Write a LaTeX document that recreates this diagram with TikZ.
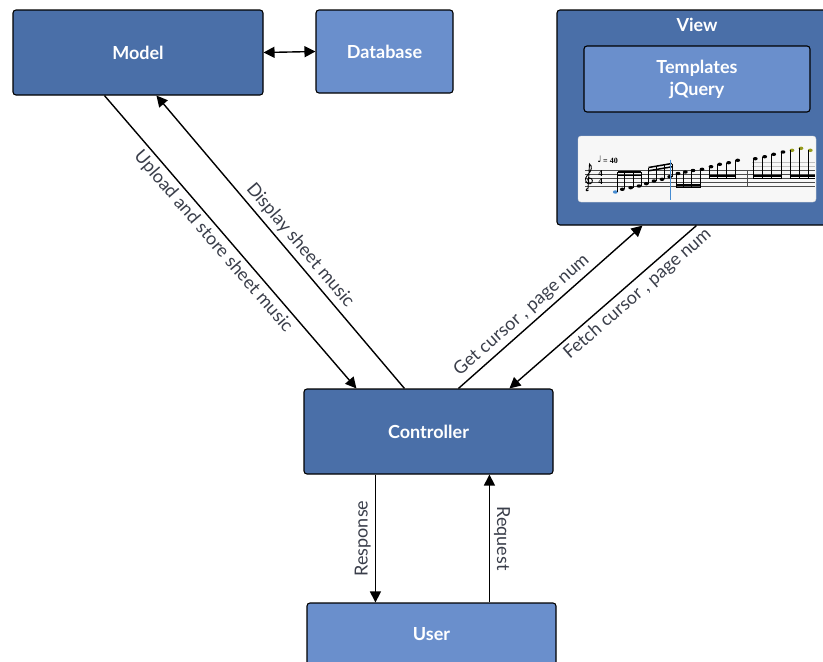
\documentclass[tikz,border=0pt]{standalone}
\usepackage{fontspec}
\setmainfont{Lato}
\newfontfamily\notefont{DejaVu Sans}
\newfontfamily\scorefont{Liberation Serif}
\usetikzlibrary{arrows.meta}

\definecolor{boxdark}{RGB}{74,111,168}
\definecolor{boxlight}{RGB}{106,143,204}
\definecolor{labelgrey}{RGB}{58,62,74}
\definecolor{cursorblue}{RGB}{70,140,210}
\definecolor{noteolive}{RGB}{150,155,30}

\tikzset{
  block/.style={draw=black, line width=1.1pt, rounded corners=3pt, fill=boxdark,
    text=white, inner sep=0pt, font=\bfseries\fontsize{18}{22}\selectfont, align=center},
  subblock/.style={block, fill=boxlight},
  flow/.style={-{Triangle[length=11pt,width=11pt]}, line width=1.4pt},
  flowboth/.style={{Triangle[length=11pt,width=11pt]}-{Triangle[length=11pt,width=11pt]}, line width=1.4pt},
  flowlabel/.style={text=labelgrey, inner sep=4pt, font=\fontsize{18}{22}\selectfont},
  staffline/.style={line width=0.5pt, black!70},
  stem/.style={line width=0.5pt},
  beam/.style={line width=1.5pt}
}

\begin{document}
\begin{tikzpicture}[x=1pt,y=-1pt]
  \useasboundingbox (0,0) rectangle (823,662);

  % boxes
  \node[block, minimum width=250, minimum height=85] (model) at (138,52.5) {Model};
  \node[subblock, minimum width=137, minimum height=83] (database) at (384.5,51.5) {Database};
  \node[block, minimum width=273, minimum height=215] (view) at (693.5,117.5) {};
  \node[text=white, font=\bfseries\fontsize{18}{22}\selectfont] (viewtitle) at (697,25) {View};
  \node[subblock, minimum width=226, minimum height=66] (templates) at (697,79) {Templates\\jQuery};
  \node[draw=black!15, fill=black!3, rounded corners=3pt, minimum width=238, minimum height=66] (sheet) at (697,169) {};
  \node[block, minimum width=249, minimum height=85] (controller) at (428.5,431.5) {Controller};
  \node[subblock, minimum width=249, minimum height=62] (user) at (431.5,634) {User};

  % score snippet
  \foreach \s in {170,174,178,182,186}
    \draw[staffline] (585,\s) -- (815,\s);
  \draw[line width=0.9pt] (588.5,190) .. controls (586,192.5) and (585,188.5) .. (588,188.5)
    -- (589.5,164) .. controls (592.5,166) and (592,170.5) .. (587.5,175)
    .. controls (583.5,179) and (586,184.5) .. (590,183.8)
    .. controls (593.5,183) and (593,178) .. (589.5,178)
    .. controls (587,178.5) and (587.5,181) .. (589,181.5);
  \node[font=\scorefont\bfseries\fontsize{9}{9}\selectfont, inner sep=0pt] (timetop) at (600.5,174) {4};
  \node[font=\scorefont\bfseries\fontsize{9}{9}\selectfont, inner sep=0pt] (timebot) at (600.5,182) {4};
  \node[font=\notefont\fontsize{9}{9}\selectfont, inner sep=0pt] (tempo) at (599.5,159.5) {♩};
  \node[font=\scorefont\bfseries\fontsize{8}{8}\selectfont, inner sep=0pt, anchor=west] (tempoval) at (603,160.5) {= 40};
  \draw[staffline] (747,170) -- (747,186);
  \draw[black!25, line width=0.4pt] (752,162) -- (815,162) (752,166) -- (815,166);

  % stems up, beams above
  \foreach \x/\y in {622.3/189.3, 630.7/187.7, 639/186}
    \fill (\x,\y) ellipse [x radius=2.4, y radius=1.7];
  \fill[cursorblue] (615.3,192) ellipse [x radius=2.4, y radius=1.7];
  \foreach \x/\y in {615.3/192, 622.3/189.3, 630.7/187.7, 639/186}
    \draw[stem] (\x+2.2,\y) -- (\x+2.2,172);
  \draw[beam] (617.5,172) -- (641.2,172) (617.5,175.3) -- (641.2,175.3);
  \foreach \x/\y/\b in {646.3/183.7/167.5, 654/181/166.2, 662/179.3/164.8, 669.7/176.7/163.5} {
    \fill (\x,\y) ellipse [x radius=2.4, y radius=1.7];
    \draw[stem] (\x+2.2,\y) -- (\x+2.2,\b);
  }
  \draw[beam] (648.5,167.5) -- (671.9,163.5) (648.5,170.8) -- (671.9,166.8);

  % stems down, beams below
  \foreach \x/\y in {678/173.5, 685.3/172, 693/170.5, 702/169.3} {
    \fill (\x,\y) ellipse [x radius=2.4, y radius=1.7];
    \draw[stem] (\x-2.2,\y) -- (\x-2.2,188);
  }
  \draw[beam] (675.8,185) -- (699.8,185) (675.8,187.7) -- (699.8,187.7);
  \foreach \x/\y in {711/166.7, 719.7/164.3, 728.7/162.7, 737.7/160.3} {
    \fill (\x,\y) ellipse [x radius=2.4, y radius=1.7];
    \draw[stem] (\x-2.2,\y) -- (\x-2.2,179);
  }
  \draw[beam] (708.8,176) -- (735.5,176) (708.8,178.7) -- (735.5,178.7);
  \foreach \x/\y in {755.3/158.7, 764.7/156.7, 773.7/154.3, 783/152} {
    \fill (\x,\y) ellipse [x radius=2.4, y radius=1.7];
    \draw[stem] (\x-2.2,\y) -- (\x-2.2,179);
  }
  \draw[beam] (753.1,176) -- (780.8,176) (753.1,178.7) -- (780.8,178.7);
  \foreach \x/\y in {792/150.3, 801/148.3, 810.3/150.3} {
    \fill[noteolive] (\x,\y) ellipse [x radius=2.4, y radius=1.7];
    \draw[stem] (\x-2.2,\y) -- (\x-2.2,179);
  }
  \draw[beam] (789.8,176) -- (815,176) (789.8,178.7) -- (815,178.7);
  \draw[cursorblue, line width=0.8pt] (670.5,159.5) -- (670.5,199.5);

  % connectors
  \draw[flowboth] (model.east) -- (database.west);
  \draw[flow] ([xshift=92pt]model.south west)
    -- node[flowlabel, sloped, below, pos=0.47] (lblupload) {Upload and store sheet music}
    ([xshift=53pt]controller.north west);
  \draw[flow] ([xshift=101pt]controller.north west)
    -- node[flowlabel, sloped, above, pos=0.46] (lbldisplay) {Display sheet music}
    ([xshift=144pt]model.south west);
  \draw[flow] ([xshift=155pt]controller.north west)
    -- node[flowlabel, sloped, above, pos=0.39] (lblget) {Get cursor , page num}
    ([xshift=86pt]view.south west);
  \draw[flow] ([xshift=140pt]view.south west)
    -- node[flowlabel, sloped, below, pos=0.36] (lblfetch) {Fetch cursor , page num}
    ([xshift=206pt]controller.north west);
  \draw[flow] ([xshift=72pt]controller.south west)
    -- node[flowlabel, rotate=90, above] (lblresponse) {Response}
    ([xshift=69pt]user.north west);
  \draw[flow] ([xshift=183pt]user.north west)
    -- node[flowlabel, rotate=-90, above] (lblrequest) {Request}
    ([xshift=186pt]controller.south west);
\end{tikzpicture}
\end{document}
